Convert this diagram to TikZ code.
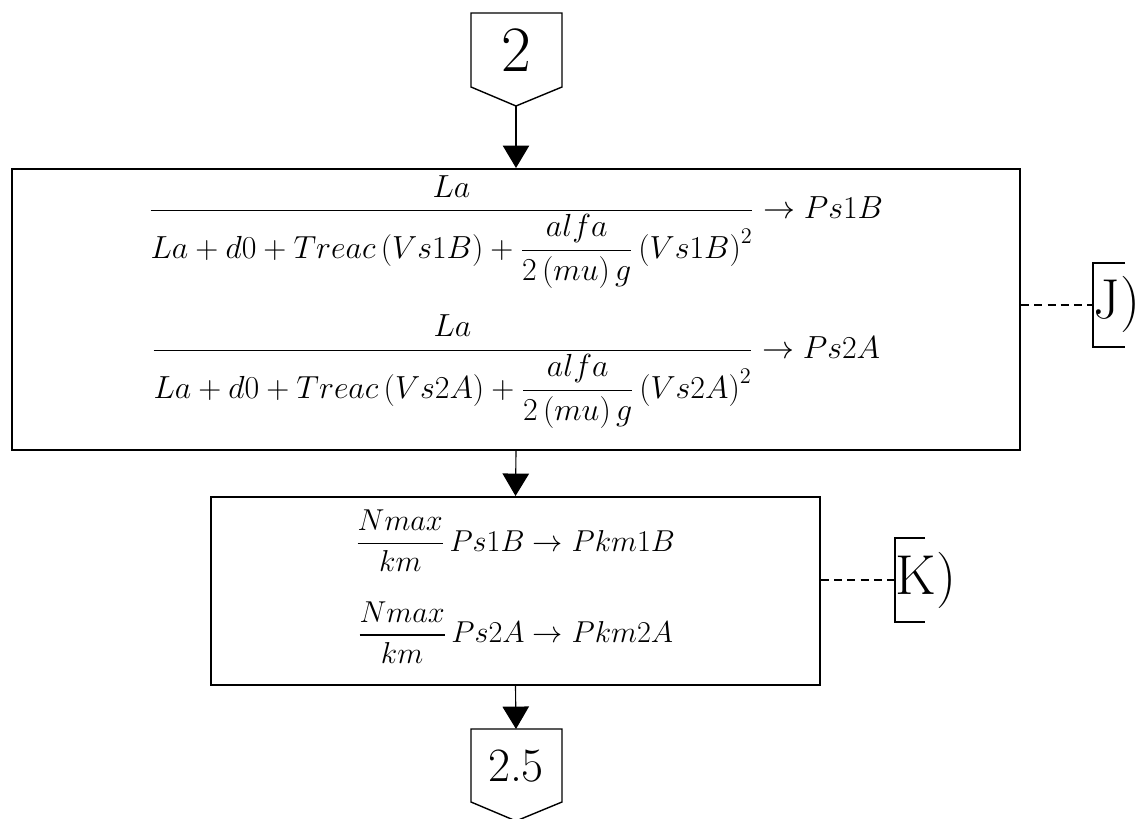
\RequirePackage{fix-cm}
\documentclass[tikz,border=0pt]{standalone}
\usepackage{amsmath}
\usetikzlibrary{arrows.meta}
\usetikzlibrary{calc}

\begin{document}
\begin{tikzpicture}[x=0.025cm, y=-0.025cm,
  procbox/.style={draw, line width=1.4pt, rectangle, align=center, inner sep=0pt},
  connline/.style={line width=1pt, line join=miter},
  flow/.style={line width=0.8pt, -{Triangle[length=0.56cm, width=0.66cm]}},
  tagline/.style={line width=1.4pt, dash pattern=on 0.2cm off 0.13cm},
  tagbracket/.style={line width=1.4pt},
  tagtext/.style={font=\fontsize{40}{40}\selectfont, inner sep=0pt}]

\useasboundingbox (0,0) rectangle (1144,819);

% off-page connector 2
\draw[connline] (471,13) -- (562,13) -- (562,87) -- (516,106) -- (471,87) -- cycle;
\node[font=\fontsize{46}{46}\selectfont, inner sep=0pt] (c2) at (516,50) {2};
\coordinate (c2tip) at (516,106);

% first box
\node[procbox, font=\fontsize{22.7}{27}\selectfont, minimum width=25.2cm, minimum height=7.025cm] (box1) at (516,309.5) {%
  $\displaystyle \frac{La}{La+d0+Treac\left(Vs1B\right)+\dfrac{alfa}{2\left(mu\right)g}\left(Vs1B\right)^{2}}\to Ps1B$\\[18pt]
  $\displaystyle \frac{La}{La+d0+Treac\left(Vs2A\right)+\dfrac{alfa}{2\left(mu\right)g}\left(Vs2A\right)^{2}}\to Ps2A$\\[10pt]};

% second box
\node[procbox, font=\fontsize{21.5}{26}\selectfont, minimum width=15.225cm, minimum height=4.7cm] (box2) at (515.5,591) {%
  $\displaystyle \frac{Nmax}{km}\,Ps1B\to Pkm1B$\\[20pt]
  $\displaystyle \frac{Nmax}{km}\,Ps2A\to Pkm2A$\\[-5pt]};

% off-page connector 2.5
\draw[connline] (471,729) -- (562,729) -- (562,802) -- (516,821) -- (471,802) -- cycle;
\node[font=\fontsize{34}{34}\selectfont, inner sep=0pt] (c25) at (516,766) {2.5};
\coordinate (c25top) at (516,729);

% flow
\draw[flow] (c2tip) -- (box1.north);
\draw[flow] (box1.south) -- (box2.north);
\draw[flow] (box2.south) -- (c25top);

% annotation J)
\node[tagtext] (tagJ) at (1117,304) {J)};
\coordinate (brJ) at (1093,305);
\draw[tagbracket] (1125,263) -- (1093,263) -- (1093,347) -- (1125,347);
\draw[tagline] (box1.east |- brJ) -- (brJ);

% annotation K)
\node[tagtext] (tagK) at (926,580) {K)};
\coordinate (brK) at (895,580);
\draw[tagbracket] (925,538) -- (895,538) -- (895,622) -- (925,622);
\draw[tagline] (box2.east |- brK) -- (brK);

\end{tikzpicture}
\end{document}
